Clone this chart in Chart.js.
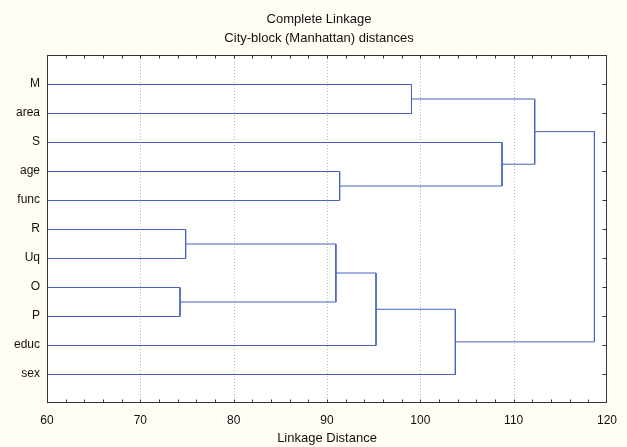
<!DOCTYPE html>
<html>
<head>
<meta charset="utf-8">
<script src="https://cdn.jsdelivr.net/npm/chart.js@4/dist/chart.umd.min.js"></script>
<style>
  html, body { margin: 0; padding: 0; background: #fffdf4; }
  #wrap { width: 627px; height: 447px; }
</style>
</head>
<body>
<div id="wrap"><canvas id="c" width="627" height="447"></canvas></div>
<script>
// ---- data ----
const leafLabels = ['M', 'area', 'S', 'age', 'func', 'R', 'Uq', 'O', 'P', 'educ', 'sex'];
// merges: clusters numbered after the leaves (11, 12, ...)
const mergeLeft   = [0,    3,    2,     11,    5,    7,    15,   17,   18,    14];
const mergeRight  = [1,    4,    12,    13,    6,    8,    16,   9,    10,    19];
const mergeHeight = [99.0, 91.3, 108.7, 112.2, 74.8, 74.2, 90.9, 95.2, 103.7, 118.6];
const xTickValues = [60, 70, 80, 90, 100, 110, 120];
const xMin = 60, xMax = 120, minorStep = 2;

// ---- build node positions from the tree ----
const nodeY = leafLabels.map((_, i) => i);
const nodeH = leafLabels.map(() => xMin);
const lineColor = 'rgb(70,98,196)';
const datasets = [];
mergeHeight.forEach((h, k) => {
  const a = mergeLeft[k], b = mergeRight[k];
  datasets.push({
    data: [
      { x: nodeH[a], y: nodeY[a] },
      { x: h, y: nodeY[a] },
      { x: h, y: nodeY[b] },
      { x: nodeH[b], y: nodeY[b] }
    ],
    showLine: true, borderColor: lineColor, borderWidth: 1,
    pointRadius: 0, tension: 0, fill: false
  });
  nodeY.push((nodeY[a] + nodeY[b]) / 2);
  nodeH.push(h);
});

const decor = {
  id: 'decor',
  beforeDraw(chart) {
    const { ctx, chartArea: a } = chart;
    ctx.save();
    ctx.fillStyle = '#fffdf4';
    ctx.fillRect(0, 0, chart.width, chart.height);
    ctx.fillStyle = '#ffffff';
    ctx.fillRect(a.left, a.top, a.right - a.left, a.bottom - a.top);
    ctx.restore();
  },
  beforeDatasetsDraw(chart) {
    const { ctx, chartArea: a, scales: { x } } = chart;
    ctx.save();
    ctx.strokeStyle = '#b8b8b8';
    ctx.lineWidth = 1;
    ctx.setLineDash([1, 2]);
    xTickValues.forEach(v => {
      if (v === xMin || v === xMax) return;
      const px = Math.round(x.getPixelForValue(v)) + 0.5;
      ctx.beginPath(); ctx.moveTo(px, a.top); ctx.lineTo(px, a.bottom); ctx.stroke();
    });
    ctx.restore();
    // half-pixel shift so the 1px tree lines land crisply on pixel rows
    ctx.save();
    ctx.translate(0.5, 0.5);
  },
  afterDatasetsDraw(chart) {
    const { ctx, chartArea: a, scales: { x, y } } = chart;
    ctx.restore();
    ctx.save();
    ctx.strokeStyle = '#333333';
    ctx.lineWidth = 1;
    const L = Math.round(a.left) + 0.5, R = Math.round(a.right) - 0.5;
    const T = Math.round(a.top) + 0.5, B = Math.round(a.bottom) - 0.5;
    ctx.strokeRect(L, T, R - L, B - T);
    ctx.beginPath();
    for (let v = xMin + minorStep; v < xMax; v += minorStep) {
      const px = Math.round(x.getPixelForValue(v)) + 0.5;
      ctx.moveTo(px, T); ctx.lineTo(px, T + 3);
      ctx.moveTo(px, B); ctx.lineTo(px, B - 3);
    }
    leafLabels.forEach((_, i) => {
      const py = Math.round(y.getPixelForValue(i)) + 0.5;
      ctx.moveTo(R, py); ctx.lineTo(R - 4, py);
    });
    ctx.stroke();
    ctx.restore();
  }
};

const family = "'Liberation Sans', Arial, sans-serif";
const font = { family, size: 12 };
const titleFont = { family, size: 13 };

new Chart(document.getElementById('c'), {
  type: 'scatter',
  data: { datasets },
  options: {
    responsive: false,
    animation: false,
    events: [],
    layout: { padding: { left: 23, right: 12, top: 0, bottom: 0 } },
    plugins: {
      legend: { display: false },
      tooltip: { enabled: false },
      title: {
        display: true,
        text: ['Complete Linkage', 'City-block (Manhattan) distances'],
        color: '#111',
        font: { ...titleFont, weight: 'normal', lineHeight: 19 / 13 },
        padding: { top: 10, bottom: 7 }
      }
    },
    scales: {
      x: {
        type: 'linear', min: xMin, max: xMax,
        grid: { display: false, drawTicks: false },
        border: { display: false },
        afterBuildTicks: s => { s.ticks = xTickValues.map(v => ({ value: v })); },
        ticks: { color: '#111', font, padding: 10, maxRotation: 0, autoSkip: false },
        title: { display: true, text: 'Linkage Distance', color: '#111', font: titleFont, padding: { top: 0, bottom: 1 } },
        afterFit: s => { s.height = 44; }
      },
      y: {
        type: 'linear', min: -1, max: leafLabels.length, reverse: true,
        grid: { display: false, drawTicks: false },
        border: { display: false },
        afterBuildTicks: s => { s.ticks = leafLabels.map((_, i) => ({ value: i })); },
        ticks: { color: '#111', font, padding: 7, autoSkip: false,
                 callback: v => leafLabels[v] !== undefined ? leafLabels[v] : '' },
        afterFit: s => { s.width = 24; s._computeLabelArea = () => null; }
      }
    }
  },
  plugins: [decor]
});
</script>
</body>
</html>
